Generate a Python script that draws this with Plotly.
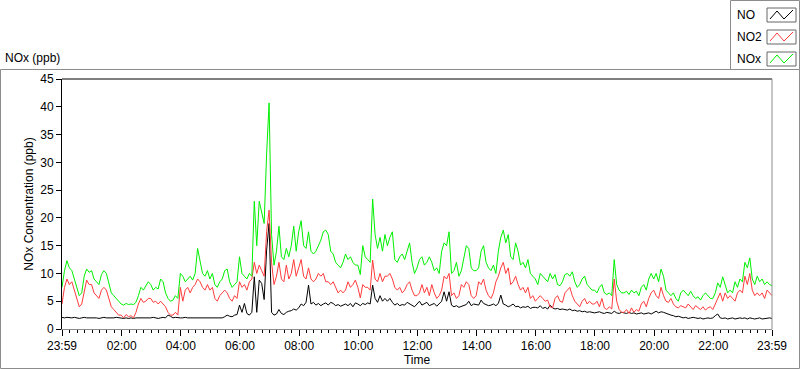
import datetime as dt
import plotly.graph_objects as go

# ---------------- data (5-minute samples, 23:59 -> 23:59) ----------------
NO = [
    2.1, 2.0, 2.1, 2.0, 2.0, 2.1, 2.0, 1.9, 2.0, 2.1, 2.0, 2.0,
    2.0, 2.1, 2.0, 1.9, 2.0, 2.1, 2.0, 2.0, 1.9, 2.0, 2.1, 2.0,
    2.0, 1.9, 2.0, 1.9, 2.0, 1.9, 2.0, 2.0, 1.9, 2.0, 2.0, 2.0,
    2.0, 2.1, 2.0, 1.9, 2.0, 2.1, 2.0, 2.5, 2.3, 2.0, 2.1, 2.0,
    2.0, 2.0, 2.1, 2.0, 2.0, 2.1, 2.0, 2.0, 2.1, 2.0, 2.0, 2.1,
    2.0, 2.1, 2.0, 2.0, 2.1, 2.0, 2.2, 2.5, 2.3, 2.2, 2.5, 2.6,
    4.3, 3.0, 4.6, 2.8, 2.5, 3.0, 9.4, 3.0, 8.8, 8.2, 5.3, 14.2,
    19.0, 3.0, 2.5, 2.7, 3.5, 2.8, 2.6, 3.0, 3.2, 3.3, 3.6, 3.4,
    3.8, 4.5, 4.2, 4.8, 7.9, 4.5, 4.8, 4.3, 4.6, 4.2, 4.5, 4.7,
    4.3, 4.8, 4.6, 4.2, 4.4, 4.1, 4.3, 4.5, 4.2, 4.6, 4.0, 4.7,
    4.5, 4.2, 4.6, 4.4, 4.7, 4.5, 7.9, 5.5, 4.8, 6.0, 5.0, 5.5,
    5.0, 5.5, 4.8, 4.3, 4.6, 4.2, 4.4, 4.3, 4.8, 4.5, 4.2, 4.0,
    4.5, 5.0, 4.3, 4.6, 4.8, 4.2, 4.4, 4.6, 4.1, 4.5, 5.0, 6.7,
    5.0, 6.7, 4.3, 4.0, 4.2, 3.9, 4.1, 4.3, 4.4, 5.0, 4.2, 4.5,
    4.4, 4.3, 5.2, 4.6, 4.4, 4.2, 4.3, 4.5, 4.2, 4.6, 6.1, 4.5,
    4.3, 4.0, 4.2, 4.5, 4.0, 4.1, 3.8, 4.0, 3.9, 4.1, 3.7, 3.9,
    3.9, 3.8, 4.2, 3.7, 3.9, 3.6, 4.3, 3.8, 3.6, 3.7, 3.5, 3.6,
    3.5, 3.4, 3.6, 3.3, 3.4, 3.2, 3.3, 3.1, 3.2, 3.0, 3.1, 3.0,
    2.9, 3.0, 3.1, 2.9, 2.8, 3.0, 2.9, 2.8, 3.2, 2.9, 2.8, 3.0,
    2.9, 2.8, 3.0, 2.8, 2.9, 2.7, 2.8, 2.9, 2.7, 2.8, 2.9, 2.7,
    3.0, 3.2, 2.9, 3.1, 3.0, 2.8, 2.6, 2.5, 2.4, 2.2, 2.3, 2.1,
    2.0, 2.1, 1.9, 2.0, 2.1, 2.0, 1.9, 2.0, 1.8, 1.9, 2.0, 1.9,
    2.0, 2.4, 2.7, 2.0, 1.9, 2.0, 1.8, 1.9, 2.0, 1.8, 1.9, 2.0,
    1.9, 2.0, 1.8, 2.0, 1.9, 1.8, 1.9, 2.0, 1.8, 1.9, 1.9, 2.0, 1.9,
]
NO2 = [
    4.5, 7.5, 9.0, 8.0, 8.5, 7.0, 5.5, 4.0, 4.5, 7.0, 8.8, 8.0,
    8.0, 6.5, 6.0, 5.5, 7.0, 7.5, 7.0, 5.5, 4.0, 3.5, 3.0, 2.5,
    2.5, 2.0, 2.6, 2.2, 2.4, 2.0, 3.0, 4.5, 5.5, 4.8, 5.0, 5.5,
    5.5, 4.8, 5.0, 4.5, 5.0, 4.5, 4.0, 3.0, 2.5, 2.5, 3.0, 2.5,
    7.5, 5.0, 7.0, 7.5, 6.5, 7.5, 8.0, 9.0, 8.5, 7.5, 7.0, 8.0,
    7.0, 7.5, 5.5, 5.0, 6.0, 6.5, 7.0, 6.5, 5.5, 5.0, 6.0, 5.5,
    8.5, 7.5, 8.0, 7.0, 8.5, 9.0, 12.0, 10.0, 11.5, 10.5, 9.5, 17.5,
    21.4, 12.0, 8.0, 9.5, 12.0, 9.0, 8.5, 11.5, 9.0, 10.0, 12.5, 9.5,
    11.0, 12.5, 9.5, 9.0, 11.0, 9.0, 8.5, 9.0, 10.0, 9.5, 10.0, 8.5,
    8.5, 8.0, 8.5, 7.5, 6.5, 7.0, 6.5, 7.0, 8.5, 7.5, 8.0, 8.8,
    7.5, 5.6, 8.0, 7.5, 7.5, 7.0, 12.4, 9.0, 8.5, 10.0, 8.5, 9.5,
    9.5, 10.0, 9.0, 7.5, 7.0, 7.5, 6.5, 7.0, 8.0, 8.5, 7.0, 6.0,
    6.0, 6.5, 8.0, 6.5, 7.5, 6.0, 8.0, 6.5, 5.5, 6.0, 7.0, 9.5,
    9.0, 10.0, 6.0, 6.5, 5.5, 6.0, 8.0, 7.5, 8.5, 8.0, 6.0, 5.5,
    6.0, 8.5, 8.0, 9.0, 7.0, 6.0, 5.5, 6.5, 8.5, 9.5, 11.0, 12.0,
    10.0, 11.0, 8.0, 8.5, 9.5, 8.0, 7.0, 7.5, 6.5, 7.5, 5.5, 6.0,
    5.0, 5.5, 6.0, 5.5, 5.0, 5.2, 4.0, 3.8, 5.5, 6.0, 5.0, 4.8,
    6.5, 7.0, 7.5, 6.0, 5.0, 4.5, 4.0, 5.0, 5.5, 4.5, 5.0, 4.5,
    4.5, 5.0, 4.0, 5.5, 3.8, 3.5, 4.0, 3.6, 9.0, 5.0, 3.5, 3.0,
    3.0, 3.5, 2.8, 3.8, 3.0, 3.5, 3.2, 4.5, 5.0, 4.0, 5.5, 6.5,
    7.0, 6.0, 5.5, 7.5, 6.0, 5.0, 4.8, 5.5, 4.5, 4.0, 3.8, 4.2,
    4.0, 3.8, 4.5, 4.0, 3.5, 4.2, 3.8, 3.5, 4.0, 3.4, 3.8, 4.0,
    3.5, 4.5, 5.5, 6.5, 5.0, 6.5, 5.5, 6.0, 5.5, 5.0, 6.5, 7.0,
    6.5, 9.5, 8.0, 10.0, 7.0, 6.0, 6.5, 6.0, 6.5, 5.5, 7.0, 6.5, 6.0,
]
NOX = [
    7.5, 10.5, 12.3, 11.0, 10.5, 9.0, 7.5, 6.0, 6.5, 9.5, 10.8, 10.2,
    10.5, 9.0, 8.5, 8.0, 9.8, 10.5, 10.0, 8.0, 6.5, 6.0, 5.5, 5.0,
    4.5, 4.3, 4.6, 4.4, 4.5, 4.4, 4.8, 6.0, 7.5, 7.0, 7.8, 8.5,
    8.0, 7.0, 7.5, 7.2, 9.0, 8.5, 6.5, 5.5, 5.0, 5.2, 6.0, 5.5,
    10.0, 9.5, 8.5, 9.0, 9.5, 8.8, 10.0, 14.5, 12.0, 10.0, 9.5, 10.5,
    9.0, 10.0, 8.0, 7.5, 8.5, 9.0, 10.5, 10.8, 8.5, 7.5, 8.0, 8.5,
    13.0, 10.0, 9.5, 9.0, 10.0, 9.5, 23.0, 15.0, 23.0, 21.0, 19.0, 31.5,
    40.7, 17.0, 11.5, 14.0, 18.5, 13.0, 12.5, 14.5, 13.0, 15.0, 18.5, 14.0,
    17.5, 19.5, 15.0, 14.5, 17.5, 14.0, 13.5, 14.0, 15.0, 16.0, 17.5, 17.8,
    17.0, 14.0, 13.5, 12.0, 11.5, 11.0, 12.0, 13.5, 12.5, 13.0, 12.0, 11.5,
    11.5, 9.8, 15.0, 13.0, 12.5, 12.0, 23.4, 17.0, 14.5, 16.5, 14.0, 17.0,
    15.0, 16.5, 17.5, 12.5, 12.0, 13.0, 13.5, 12.5, 14.0, 15.5, 12.0, 10.0,
    11.0, 12.5, 13.0, 11.5, 12.0, 13.0, 12.0, 10.5, 11.0, 10.0, 14.0, 15.5,
    15.0, 17.5, 10.0, 10.5, 12.0, 9.5, 10.5, 12.5, 15.0, 14.5, 11.0, 10.5,
    10.5, 11.0, 14.0, 15.0, 12.0, 11.0, 10.5, 11.5, 10.0, 14.0, 16.5, 17.8,
    15.5, 17.0, 13.0, 12.5, 15.5, 14.0, 11.5, 12.0, 11.0, 12.5, 10.0, 9.5,
    9.0, 8.0, 10.0, 9.5, 9.0, 8.5, 10.0, 9.0, 9.8, 8.0, 7.8, 8.5,
    9.8, 10.0, 9.5, 10.3, 8.5, 7.5, 8.0, 9.0, 9.5, 8.0, 7.5, 7.0,
    7.0, 6.5, 7.5, 8.0, 6.5, 6.2, 6.5, 6.0, 12.5, 8.0, 7.0, 6.5,
    6.5, 6.8, 6.2, 7.0, 6.5, 6.8, 6.0, 7.5, 8.0, 7.0, 9.0, 10.0,
    9.0, 10.0, 8.5, 10.8, 9.5, 7.0, 6.5, 6.0, 6.5, 5.5, 5.0, 6.5,
    7.0, 6.5, 6.0, 6.8, 6.0, 5.5, 5.8, 5.2, 6.0, 6.5, 6.0, 5.5,
    5.5, 6.5, 8.3, 7.5, 9.4, 8.0, 6.5, 7.0, 6.5, 8.5, 7.5, 9.0,
    8.5, 12.0, 11.0, 12.8, 9.0, 8.0, 9.5, 8.5, 9.0, 8.0, 8.5, 8.0, 7.8,
]
SERIES_NAMES = ["NO", "NO2", "NOx"]
X_TICK_LABELS = ["23:59", "02:00", "04:00", "06:00", "08:00", "10:00", "12:00",
                 "14:00", "16:00", "18:00", "20:00", "22:00", "23:59"]
Y_TICKS = [0, 5, 10, 15, 20, 25, 30, 35, 40, 45]

# ---------------- time axis ----------------
start = dt.datetime(2020, 1, 1, 23, 59)
end = start + dt.timedelta(hours=24)
step = dt.timedelta(minutes=5)
times = [start + i * step for i in range(len(NOX))]

tickvals = [start] + [dt.datetime(2020, 1, 2, h, 0) for h in range(2, 23, 2)] + [end]
minor_vals = []
t = dt.datetime(2020, 1, 2, 0, 15)
while t < end:
    if t.minute != 0 or t.hour % 2 == 1:
        minor_vals.append(t)
    t += dt.timedelta(minutes=15)

# ---------------- figure ----------------
W, H = 800, 369
L, R, T, B = 62, 28, 79, 40
PW, PH = W - L - R, H - T - B


def px(x, y):
    return (x - L) / PW, (H - B - y) / PH


FONT = "Liberation Sans"
colors = {"NO": "#000000", "NO2": "#ff3b3b", "NOx": "#00f000"}

fig = go.Figure()
for name, vals in zip(SERIES_NAMES, [NO, NO2, NOX]):
    fig.add_trace(go.Scatter(x=times, y=vals, mode="lines", name=name,
                             line=dict(color=colors[name], width=1)))

shapes = []
# outer panel frame
x0, y0 = px(0.5, 69.5)
x1, y1 = px(799.5, 368.5)
shapes.append(dict(type="rect", xref="paper", yref="paper", x0=x0, y0=y0, x1=x1, y1=y1,
                   line=dict(color="#8c8c8c", width=1), layer="below"))
# legend frame
x0, y0 = px(730.5, 0.5)
x1, y1 = px(799.5, 69.5)
shapes.append(dict(type="rect", xref="paper", yref="paper", x0=x0, y0=y0, x1=x1, y1=y1,
                   line=dict(color="#8c8c8c", width=1), fillcolor="white"))
# plot-area frame: top black, right gray
shapes.append(dict(type="line", xref="paper", yref="paper", x0=0, y0=1, x1=1, y1=1,
                   line=dict(color="black", width=1)))
shapes.append(dict(type="line", xref="paper", yref="paper", x0=1, y0=0, x1=1, y1=1,
                   line=dict(color="#8c8c8c", width=1)))

annotations = []
# legend rows
for i, name in enumerate(SERIES_NAMES):
    cy = 15 + i * 22
    ax, ay = px(735, cy)
    annotations.append(dict(x=ax, y=ay, xref="paper", yref="paper", text=name,
                            showarrow=False, xanchor="left", yanchor="middle",
                            font=dict(family=FONT, size=12, color="black")))
    bx0, by0 = px(767, cy - 7)
    bx1, by1 = px(796, cy + 7)
    shapes.append(dict(type="rect", xref="paper", yref="paper", x0=bx0, y0=by0, x1=bx1, y1=by1,
                       line=dict(color="#666666", width=1), fillcolor="white"))
    pts = [px(770, cy + 4), px(777, cy - 4), px(784, cy + 4), px(793, cy - 5)]
    path = "M " + " L ".join(f"{p[0]},{p[1]}" for p in pts)
    shapes.append(dict(type="path", xref="paper", yref="paper", path=path,
                       line=dict(color=colors[name], width=1)))

# graph label
gx, gy = px(3, 58)
annotations.append(dict(x=gx, y=gy, xref="paper", yref="paper", text="NOx (ppb)",
                        showarrow=False, xanchor="left", yanchor="middle",
                        font=dict(family=FONT, size=12, color="black")))

fig.update_layout(
    width=W, height=H,
    margin=dict(l=L, r=R, t=T, b=B),
    paper_bgcolor="white", plot_bgcolor="white",
    showlegend=False,
    font=dict(family=FONT, size=12, color="black"),
    shapes=shapes, annotations=annotations,
    xaxis=dict(
        range=[start, end], tickmode="array", tickvals=tickvals, ticktext=X_TICK_LABELS,
        ticks="outside", ticklen=6, tickcolor="black", showgrid=False, zeroline=False,
        showline=True, linecolor="#8c8c8c", linewidth=1, automargin=False,
        minor=dict(tickmode="array", tickvals=minor_vals, ticks="outside", ticklen=3,
                   tickcolor="black", showgrid=False),
        title=dict(text="Time", standoff=2, font=dict(size=12)),
        tickfont=dict(size=12),
    ),
    yaxis=dict(
        range=[0, 45], tickmode="array", tickvals=Y_TICKS,
        ticks="outside", ticklen=5, tickcolor="black", showgrid=False, zeroline=False,
        showline=True, linecolor="black", linewidth=1, automargin=False,
        title=dict(text="NOx Concentration (ppb)", standoff=4, font=dict(size=12)),
        tickfont=dict(size=12),
    ),
)

fig.write_html("out.html", post_script="document.body.style.margin='0';",
               config={"displayModeBar": False})
